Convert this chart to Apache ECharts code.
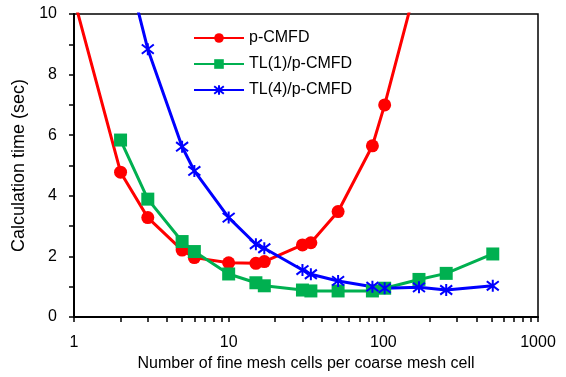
<!DOCTYPE html>
<html><head><meta charset="utf-8">
<script src="https://cdn.jsdelivr.net/npm/echarts@6/dist/echarts.min.js"></script>
<style>html,body{margin:0;padding:0;background:#fff}#c{width:566px;height:377px}</style>
</head><body><div id="c"></div>
<script>
const xCats = [1, 2, 3, 5, 6, 10, 15, 17, 30, 34, 51, 85, 102, 170, 255, 510];
const pCMFD = [10.5, 4.78, 3.28, 2.21, 1.96, 1.79, 1.77, 1.83, 2.38, 2.45, 3.48, 5.65, 7.0, 11.3, null, null];
const tl1 = [null, 5.84, 3.89, 2.49, 2.16, 1.42, 1.13, 1.03, 0.89, 0.86, 0.86, 0.86, 0.95, 1.24, 1.44, 2.08];
const tl4 = [null, 12.4, 8.84, 5.62, 4.82, 3.28, 2.40, 2.27, 1.55, 1.41, 1.19, 1.00, 0.95, 0.98, 0.89, 1.03];
const xTickLabels = [1, 10, 100, 1000];
const xMinorTicks = [1,2,3,4,5,6,7,8,9,10,20,30,40,50,60,70,80,90,100,200,300,400,500,600,700,800,900,1000];
const yTicks = [0,1,2,3,4,5,6,7,8,9,10];
const names = ['p-CMFD', 'TL(1)/p-CMFD', 'TL(4)/p-CMFD'];

function pairs(vals){ return xCats.map((x,i)=>[x, vals[i]]).filter(p=>p[1]!==null); }
const font = 'Liberation Sans, Arial, sans-serif';
const star = 'path://M0,0L10,10M10,0L0,10M5,-1.5L5,11.5';

const chart = echarts.init(document.getElementById('c'), null, {renderer:'canvas'});
chart.setOption({
  animation:false,
  backgroundColor:'#fff',
  textStyle:{fontFamily:font},
  grid:{left:74, right:28, top:14, bottom:60, show:true, borderColor:'#000', borderWidth:1.5,
        containLabel:false, outerBoundsMode:'none'},
  legend:{
    data:names, left:193, top:30, padding:0, orient:'vertical', itemWidth:50, itemHeight:12, itemGap:10,
    textStyle:{fontSize:16, color:'#000', fontFamily:font}
  },
  xAxis:{
    type:'log', logBase:10, min:1, max:1000,
    name:'Number of fine mesh cells per coarse mesh cell', nameLocation:'middle', nameGap:38,
    nameTextStyle:{fontSize:16, color:'#000', fontFamily:font},
    axisLine:{lineStyle:{color:'#000', width:2}},
    axisTick:{show:true, length:5, lineStyle:{color:'#000', width:1.5}, customValues:xMinorTicks},
    axisLabel:{fontSize:16, color:'#000', margin:18, customValues:xTickLabels, fontFamily:font,
      formatter:function(v){return String(Math.round(v));}},
    splitLine:{show:false}
  },
  yAxis:{
    type:'value', min:0, max:10, interval:2,
    name:'Calculation time (sec)', nameLocation:'middle', nameGap:38,
    nameTextStyle:{fontSize:18, color:'#000', fontFamily:font},
    axisLine:{show:true, lineStyle:{color:'#000', width:2}},
    axisTick:{show:true, length:5, lineStyle:{color:'#000', width:1.5}, customValues:yTicks},
    axisLabel:{fontSize:16, color:'#000', margin:17, fontFamily:font},
    splitLine:{show:false}
  },
  series:[
    {name:names[0], type:'line', data:pairs(pCMFD), symbol:'circle', symbolSize:13,
     lineStyle:{color:'#FF0000', width:3}, itemStyle:{color:'#FF0000'}, clip:true},
    {name:names[1], type:'line', data:pairs(tl1), symbol:'rect', symbolSize:13,
     lineStyle:{color:'#00B050', width:3}, itemStyle:{color:'#00B050'}, clip:true},
    {name:names[2], type:'line', data:pairs(tl4), symbol:star, symbolSize:12,
     lineStyle:{color:'#0000FF', width:3}, itemStyle:{color:'#0000FF', borderColor:'#0000FF', borderWidth:2}, clip:true}
  ]
});
</script></body></html>
